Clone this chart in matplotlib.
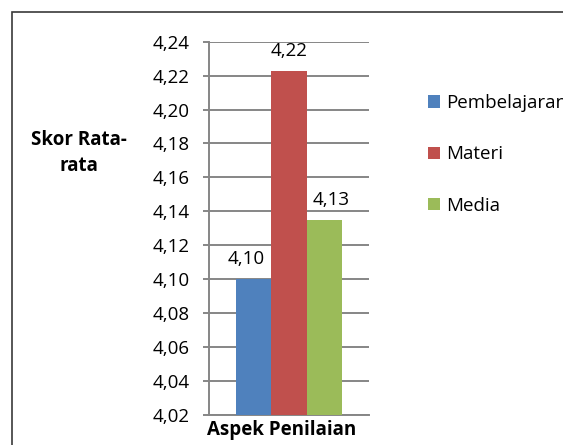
import numpy as np
import matplotlib.pyplot as plt
from matplotlib.patches import Rectangle

# === Data ===
series = ["Pembelajaran", "Materi", "Media"]
scores = [4.10, 4.2226, 4.1347]
score_labels = ["4,10", "4,22", "4,13"]
colors = ["#4F81BD", "#C0504D", "#9BBB59"]
y_ticks = [4.02, 4.04, 4.06, 4.08, 4.10, 4.12, 4.14, 4.16, 4.18, 4.20, 4.22, 4.24]

plt.rcParams['font.family'] = ['Open Sans', 'DejaVu Sans']
FS = 13.5

fig = plt.figure(figsize=(5.63, 4.45), dpi=100)
ax = fig.add_axes([0.3718, 0.0681, 0.2833, 0.838])

# outer chart border (right/bottom run off the image like the source)
fig.patches.append(Rectangle((11.5 / 563, -0.1), 1.2, 1 - 12.5 / 445 + 0.1,
                             transform=fig.transFigure, fill=False,
                             edgecolor="#3a3a3a", linewidth=1.2))

bar_w = 0.223
x = (np.arange(len(series)) - 1) * bar_w
bars = ax.bar(x, scores, width=bar_w, color=colors, label=series, zorder=3)

# excel nudges the outer labels sideways a little
label_dx = [-5.5, 0, 5]
for b, lab, dx in zip(bars, score_labels, label_dx):
    ax.annotate(lab, (b.get_x() + b.get_width() / 2, b.get_height()),
                xytext=(dx, 8), textcoords="offset points",
                ha="center", va="bottom", fontsize=FS)

ax.set_xlim(-0.5, 0.5)
ax.set_ylim(4.02, 4.24)
ax.set_yticks(y_ticks)
ax.set_yticklabels([f"{v:.2f}".replace(".", ",") for v in y_ticks], fontsize=FS)
ax.set_xticks([])
ax.grid(axis="y", color="#868686", linewidth=1.4, zorder=0)
ax.tick_params(axis="y", length=4.6, width=1.4, color="#868686", pad=9.5)

for s in ["top", "right"]:
    ax.spines[s].set_visible(False)
ax.spines["left"].set_color("#868686")
ax.spines["left"].set_linewidth(1.4)
ax.spines["bottom"].set_color("#868686")
ax.spines["bottom"].set_linewidth(1.4)

ax.set_xlabel("Aspek Penilaian", fontsize=FS, fontweight="bold", labelpad=5.5)
ax.xaxis.set_label_coords(0.455, -0.015)
ax.xaxis.label.set_va("top")
fig.text(78.5 / 563, 1 - 153 / 445, "Skor Rata-\nrata", fontsize=FS,
         fontweight="bold", ha="center", va="center", linespacing=1.35)

ax.legend(loc="upper left", bbox_to_anchor=(1.325, 0.88), frameon=False,
          fontsize=FS, handlelength=0.65, handleheight=0.65, handletextpad=0.3,
          labelspacing=1.78, borderaxespad=0)

fig.savefig("out.png", dpi=100)
